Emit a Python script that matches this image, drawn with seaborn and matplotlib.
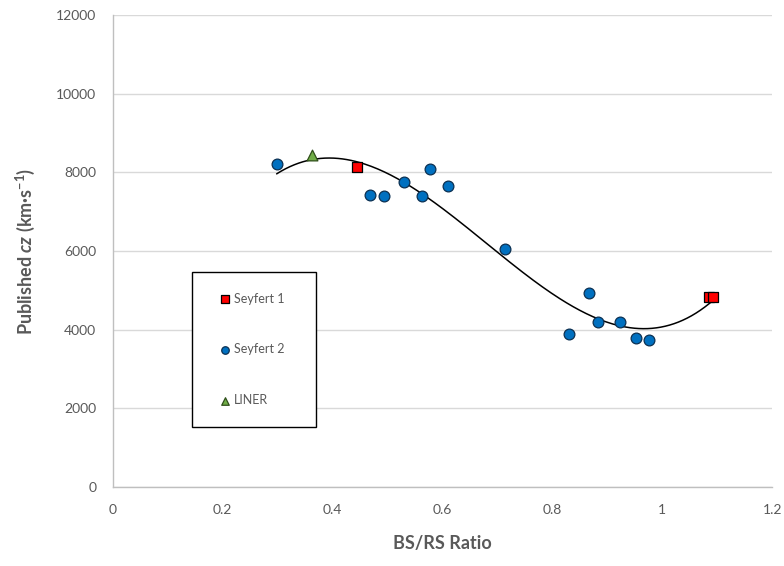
import numpy as np
import pandas as pd
import matplotlib
matplotlib.use("Agg")
import matplotlib.pyplot as plt
import seaborn as sns

# values
sey1_ratio = [0.444, 1.085, 1.093]
sey1_cz = [8130, 4830, 4830]
sey2_ratio = [0.298, 0.468, 0.494, 0.530, 0.562, 0.577, 0.610, 0.713,
              0.830, 0.866, 0.882, 0.923, 0.952, 0.975]
sey2_cz = [8210, 7420, 7390, 7760, 7390, 8090, 7640, 6040,
           3890, 4920, 4190, 4190, 3800, 3740]
liner_ratio = [0.362]
liner_cz = [8450]

x_ticks = [0, 0.2, 0.4, 0.6, 0.8, 1, 1.2]
x_ticklabels = ["0", "0.2", "0.4", "0.6", "0.8", "1", "1.2"]
y_ticks = [0, 2000, 4000, 6000, 8000, 10000, 12000]

df = pd.concat([
    pd.DataFrame({"ratio": sey1_ratio, "cz": sey1_cz, "type": "Seyfert 1"}),
    pd.DataFrame({"ratio": sey2_ratio, "cz": sey2_cz, "type": "Seyfert 2"}),
    pd.DataFrame({"ratio": liner_ratio, "cz": liner_cz, "type": "LINER"}),
], ignore_index=True)

sns.set_style("white")
plt.rcParams['font.family'] = ['Lato', 'DejaVu Sans']
plt.rcParams['mathtext.fontset'] = 'custom'
plt.rcParams['mathtext.rm'] = 'Lato:bold'
plt.rcParams['mathtext.it'] = 'Lato:bold:italic'
plt.rcParams['mathtext.bf'] = 'Lato:bold'

grey = "#595959"
fig, ax = plt.subplots(figsize=(7.84, 5.66), dpi=100)
fig.subplots_adjust(left=0.144, right=0.985, top=0.9735, bottom=0.1396)

# cubic trend line through all points (like an Excel polynomial trendline)
coef = np.polyfit(df["ratio"], df["cz"], 3)
xs = np.linspace(df["ratio"].min(), df["ratio"].max(), 200)
ax.plot(xs, np.polyval(coef, xs), color="black", lw=1.1, zorder=2)

styles = {
    "Seyfert 1": dict(marker="s", color="#FF0000", edgecolor="#000000"),
    "Seyfert 2": dict(marker="o", color="#0070C0", edgecolor="#0B3052"),
    "LINER": dict(marker="^", color="#70AD47", edgecolor="#2F4F1A"),
}
for name, st in styles.items():
    sub = df[df["type"] == name]
    sns.scatterplot(data=sub, x="ratio", y="cz", ax=ax, label=name, s=60,
                    linewidth=0.9, zorder=3, **st)

ax.set_xlim(0, 1.2)
ax.set_ylim(0, 12000)
ax.set_xticks(x_ticks)
ax.set_xticklabels(x_ticklabels)
ax.set_yticks(y_ticks)
ax.yaxis.grid(True, color="#D9D9D9", lw=1)
ax.set_axisbelow(True)
for s in ["top", "right"]:
    ax.spines[s].set_visible(False)
for s in ["left", "bottom"]:
    ax.spines[s].set_color("#BFBFBF")
    ax.spines[s].set_linewidth(1)
ax.tick_params(axis="x", direction="in", length=6, color="#BFBFBF",
               labelsize=10, labelcolor=grey, pad=12)
ax.tick_params(axis="y", length=0, labelsize=10, labelcolor=grey, pad=12)

ax.set_xlabel("BS/RS Ratio", fontsize=13, fontweight="bold", color=grey,
              labelpad=14)
ax.set_ylabel(r"Published $\mathit{cz}$ (km·s$^{\mathrm{-1}}$)", fontsize=13,
              fontweight="bold", color=grey, labelpad=14)

leg = ax.legend(loc="upper left", bbox_to_anchor=(0.12, 0.4555, 0.188, 0.0),
                mode="expand", fontsize=9, labelcolor=grey, labelspacing=3.1,
                borderpad=1.65, handlelength=2.05, handletextpad=-0.33,
                markerscale=0.7, fancybox=False, framealpha=1,
                borderaxespad=0)
leg.get_frame().set_edgecolor("black")
leg.get_frame().set_linewidth(1)

fig.savefig("out.png", dpi=100)
